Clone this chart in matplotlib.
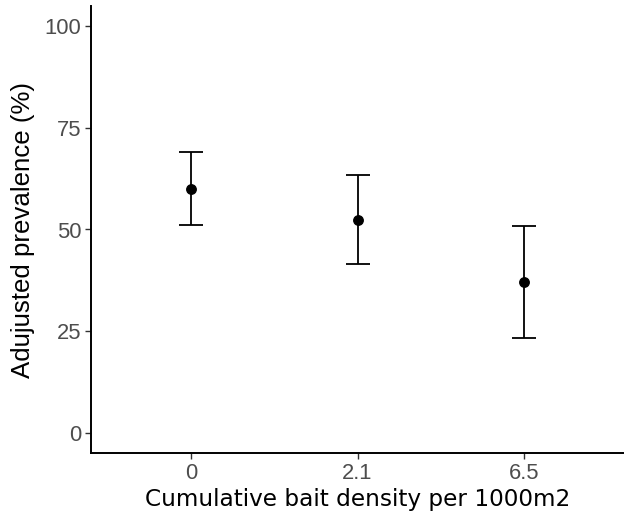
import matplotlib
matplotlib.use("Agg")
import matplotlib.pyplot as plt

categories = ["0", "2.1", "6.5"]
prevalence = [60.0, 52.4, 37.0]
lower = [51.2, 41.5, 23.3]
upper = [69.0, 63.3, 50.8]
yticks = [0, 25, 50, 75, 100]

fig = plt.figure(figsize=(6.24, 5.14), dpi=100)
ax = fig.add_axes([91/624, 1-453.3/514, 1-91/624, (453.3-5.7)/514])

x = list(range(1, len(categories)+1))
yerr = [[p - l for p, l in zip(prevalence, lower)], [u - p for p, u in zip(prevalence, upper)]]
ax.errorbar(x, prevalence, yerr=yerr, fmt='o', color='black', ecolor='black',
            elinewidth=1.3, capsize=8.9, capthick=1.3, markersize=6.8)

ax.set_xlim(0.4, 3.6)
ax.set_ylim(-5, 105)
ax.set_xticks(x)
ax.set_xticklabels(categories)
ax.set_yticks(yticks)
ax.set_yticklabels([str(t) for t in yticks])

for s in ['top', 'right']:
    ax.spines[s].set_visible(False)
for s in ['left', 'bottom']:
    ax.spines[s].set_linewidth(1.4)
    ax.spines[s].set_color('black')

ax.tick_params(axis='both', colors='#333333', length=4, width=1.0, labelsize=15.8,
               labelcolor='#4D4D4D', pad=3)
for lab in ax.get_xticklabels() + ax.get_yticklabels():
    lab.set_family('Liberation Sans')

ax.set_xlabel("Cumulative bait density per 1000m2", fontsize=16.7, family='DejaVu Sans', labelpad=3)
ax.set_ylabel("Adujusted prevalence (%)", fontsize=18.6, family='Liberation Sans', labelpad=7)

fig.savefig("out.png", dpi=100)
